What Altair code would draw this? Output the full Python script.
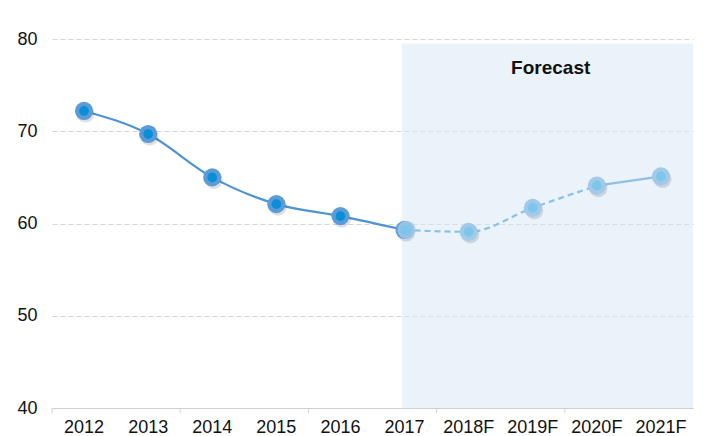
import altair as alt
import pandas as pd

categories = ["2012", "2013", "2014", "2015", "2016", "2017", "2018F", "2019F", "2020F", "2021F"]
values = [72.2, 69.7, 65.0, 62.1, 60.8, 59.3, 59.1, 61.7, 64.1, 65.1]
# segment for each line piece: actual (solid), forecast dashed, forecast solid
seg_actual = categories[0:6]
seg_dash = categories[5:9]
seg_tail = categories[8:10]
tick_cats = ["2012", "2014", "2016", "2018F", "2020F"]

val = dict(zip(categories, values))
rows = []
for c in seg_actual:
    rows.append({"cat": c, "value": val[c], "seg": "actual"})
for c in seg_dash:
    rows.append({"cat": c, "value": val[c], "seg": "dash"})
for c in seg_tail:
    rows.append({"cat": c, "value": val[c], "seg": "tail"})
lines_df = pd.DataFrame(rows)

pts_df = pd.DataFrame({"cat": categories, "value": values,
                       "kind": ["actual"] * 6 + ["forecast"] * 4})
f17 = pd.DataFrame({"cat": ["2017"], "value": [val["2017"]]})

shade_df = pd.DataFrame({"cat": ["2017"], "b": ["2021F"], "value": [40], "y1": [79.5]})
label_df = pd.DataFrame({"cat": ["2019F"], "value": [76.9], "text": ["Forecast"]})
ticks_df = pd.DataFrame({"cat": tick_cats, "value": [40] * len(tick_cats)})

FONT = "Liberation Sans"
xscale = alt.Scale(domain=categories, paddingInner=0, paddingOuter=0)
yscale = alt.Scale(domain=[40, 80])

x_axis = alt.Axis(title=None, labelAngle=0, labelAlign="center", ticks=False, grid=False,
                  bandPosition=0.5, labelFontSize=18,
                  labelFont=FONT, labelColor="#111111", labelPadding=10,
                  domainColor="#D0D0D0", domainWidth=1)
y_axis = alt.Axis(title=None, values=[40, 50, 60, 70, 80], ticks=False,
                  domain=False, labelFontSize=18, labelFont=FONT,
                  labelColor="#111111", labelPadding=15,
                  gridColor="#D6D6D6", gridDash=[5, 3], gridWidth=1.2)


def X(bp=0.5):
    return alt.X("cat:N", scale=xscale, sort=categories, bandPosition=bp, axis=x_axis)


y_enc = alt.Y("value:Q", scale=yscale, axis=y_axis)

shade = alt.Chart(shade_df).mark_rect(color="#D6E8F6", opacity=0.5).encode(
    x=X(0.46),
    x2=alt.X2("b:N", bandPosition=1),
    y=y_enc,
    y2="y1:Q",
)

base_line = alt.Chart(lines_df)
line_actual = base_line.transform_filter("datum.seg == 'actual'").mark_line(
    color="#4E93D6", strokeWidth=2.2, interpolate="monotone").encode(x=X(), y=y_enc)
line_dash = base_line.transform_filter("datum.seg == 'dash'").mark_line(
    color="#8EC0E8", strokeWidth=2.2, strokeDash=[6, 4], interpolate="monotone").encode(x=X(), y=y_enc)
line_tail = base_line.transform_filter("datum.seg == 'tail'").mark_line(
    color="#8EC0E8", strokeWidth=2.2, interpolate="monotone").encode(x=X(), y=y_enc)

pts = alt.Chart(pts_df)
shadow = pts.mark_circle(size=330, color="#000000", opacity=0.12, xOffset=1.5, yOffset=2.5).encode(x=X(), y=y_enc)
outer_a = pts.transform_filter("datum.kind == 'actual'").mark_circle(
    size=330, color="#5B9BD8", opacity=1).encode(x=X(), y=y_enc)
inner_a = pts.transform_filter("datum.kind == 'actual'").mark_circle(
    size=95, color="#0A8ED6", opacity=1).encode(x=X(), y=y_enc)
outer_f = pts.transform_filter("datum.kind == 'forecast'").mark_circle(
    size=330, color="#A2C9EA", opacity=1).encode(x=X(), y=y_enc)
inner_f = pts.transform_filter("datum.kind == 'forecast'").mark_circle(
    size=95, color="#7CC6E8", opacity=1).encode(x=X(), y=y_enc)
# 2017: actual point partially overlaid by forecast point
outer_17 = alt.Chart(f17).mark_circle(size=330, color="#A2C9EA", opacity=0.85, xOffset=2).encode(x=X(), y=y_enc)
inner_17 = alt.Chart(f17).mark_circle(size=95, color="#7CC6E8", opacity=0.9, xOffset=2).encode(x=X(), y=y_enc)

ticks = alt.Chart(ticks_df).mark_rule(color="#D0D0D0", strokeWidth=1, y2Offset=5).encode(
    x=X(0),
    y=y_enc,
    y2="value:Q",
)

label = alt.Chart(label_df).mark_text(font=FONT, fontSize=19, fontWeight="bold",
                                      color="#111111").encode(
    x=X(0.78),
    y=y_enc,
    text="text:N",
)

chart = alt.layer(
    shade, line_actual, line_dash, line_tail, shadow,
    outer_a, inner_a, outer_f, inner_f, outer_17, inner_17, ticks, label
).properties(
    width=641, height=369,
    background="white",
    autosize=alt.AutoSizeParams(type="none"),
    padding={"left": 44, "top": 31, "right": 2, "bottom": 28},
).configure_view(strokeWidth=0)

chart.save("out.html", embed_options={"renderer": "svg", "actions": False})
